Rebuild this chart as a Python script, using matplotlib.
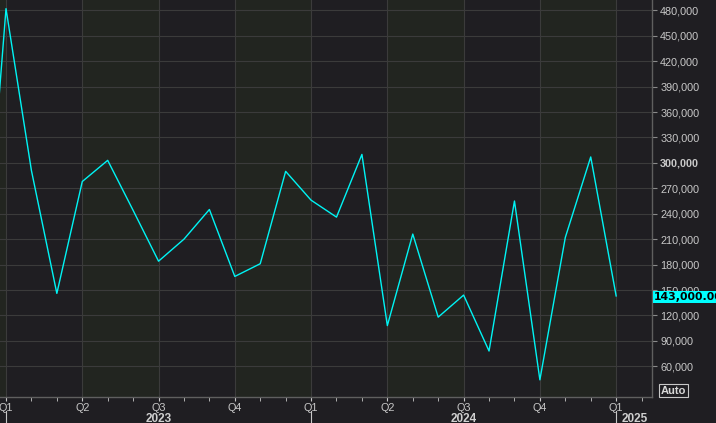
import matplotlib
matplotlib.use('Agg')
import matplotlib.pyplot as plt
import matplotlib.transforms as mtransforms
from matplotlib.patches import Rectangle

# ── Data (monthly, index 0 = Jan 2023) ───────────────────────────────────────
months = list(range(-1, 25))
values = [100000, 482000, 291000, 146000, 278000, 303000, 244000, 184000,
          210000, 245000, 166000, 181000, 290000, 256000, 236000, 310000,
          108000, 216000, 118000, 144000, 78000, 255000, 44000, 212000,
          307000, 143000]

quarter_pos    = [0, 3, 6, 9, 12, 15, 18, 21, 24]
quarter_labels = ['Q1', 'Q2', 'Q3', 'Q4', 'Q1', 'Q2', 'Q3', 'Q4', 'Q1']
year_labels    = ['2023', '2024', '2025']
year_pos       = [6, 18, 24.22]
year_sep       = [0, 12, 24]
yticks         = list(range(60000, 480001, 30000))
ytick_labels   = [f'{v:,}' for v in yticks]
last_label     = '143,000.00'

# ── Colours ──────────────────────────────────────────────────────────────────
BG_DARK  = '#1f1e22'
BG_GREEN = '#222520'
GRID     = '#3b3b3b'
TXT      = '#c8c8c8'
LINE     = '#00f4f4'

W, H = 716, 423
fig = plt.figure(figsize=(W / 100, H / 100), dpi=100, facecolor=BG_DARK)
ax = fig.add_axes([0, 26.3 / H, 652 / W, 396.7 / H])
ax.set_facecolor(BG_DARK)

# ── Alternating quarter bands ────────────────────────────────────────────────
for q in range(-3, 27, 3):
    col = BG_DARK if (q // 3) % 2 == 0 else BG_GREEN
    ax.axvspan(q, q + 3, color=col, lw=0, zorder=0.1)

ax.plot(months, values, color=LINE, lw=1.0, zorder=3)

# ── Axes styling ─────────────────────────────────────────────────────────────
ax.set_axisbelow('line')
ax.grid(True, which='major', color=GRID, lw=0.8)
for s in ['left', 'top']:
    ax.spines[s].set_visible(False)
for s in ['bottom', 'right']:
    ax.spines[s].set_color('#5f5f5f')
    ax.spines[s].set_linewidth(1.0)

ax.set_xticks(quarter_pos, labels=quarter_labels)
ax.set_xticks(range(-1, 26), minor=True)
ax.tick_params(axis='x', which='both', direction='out', length=3,
               color=TXT, pad=1.5, labelsize=7.8, labelcolor=TXT)

ax.yaxis.tick_right()
ax.set_yticks(yticks, labels=ytick_labels)
ax.tick_params(axis='y', direction='out', length=3.5, color='#8a8a8a',
               pad=2.4, labelsize=7.8, labelcolor=TXT)
for lbl in ax.get_xticklabels() + ax.get_yticklabels():
    lbl.set_family('Liberation Sans')
for lbl in ax.get_yticklabels():
    if lbl.get_text() == '300,000':
        lbl.set_fontweight('bold')

# limits last: set_xticks would otherwise widen the view
ax.set_xlim(-0.236, 25.41)
ax.set_ylim(24100, 492200)

# ── Year row under the quarter labels ────────────────────────────────────────
trans = mtransforms.blended_transform_factory(ax.transData, fig.transFigure)
for xs in year_sep:
    ax.plot([xs, xs], [0, 1 - 411 / H], color=TXT, lw=0.8,
            transform=trans, clip_on=False)
for lab, xp in zip(year_labels, year_pos):
    ax.text(xp, 1 - 418.5 / H, lab, transform=trans,
            ha='center' if lab != '2025' else 'left',
            va='center', fontsize=8.5, fontweight='bold', color='#d0d0d0',
            family='Liberation Sans', clip_on=False)

# ── Last value tag and Auto button ───────────────────────────────────────────
fig.add_artist(Rectangle((652.7 / W, 1 - 303.3 / H), (W - 652.7) / W, 12.6 / H,
                         transform=fig.transFigure, facecolor='#00ffff',
                         edgecolor='none', zorder=4))
fig.text(653.5 / W, 1 - 297 / H, last_label, ha='left', va='center',
         fontsize=7.8, fontweight='bold', color='black', family='DejaVu Sans',
         zorder=5)
fig.text(661 / W, 1 - 390.5 / H, 'Auto', ha='left', va='center', fontsize=8,
         fontweight='bold', color='#d8d8d8', family='Liberation Sans',
         bbox=dict(boxstyle='square,pad=0.15', fc=BG_DARK, ec='#c8c8c8', lw=0.8))

fig.savefig('out.png', dpi=100, facecolor=fig.get_facecolor())
